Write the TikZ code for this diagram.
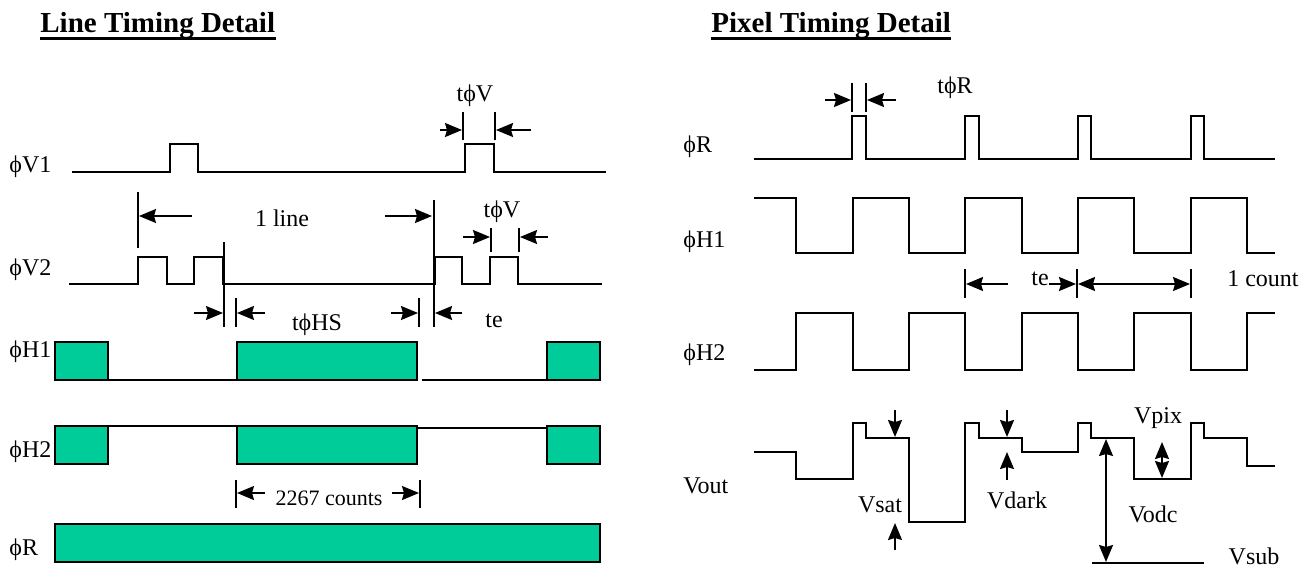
\documentclass[tikz,border=0pt]{standalone}
\usepackage{fontspec}
\setmainfont{Liberation Serif}
\usetikzlibrary{arrows.meta}

\definecolor{clkgreen}{RGB}{0,204,153}
\newcommand{\phisym}{\char"03D5\relax}

\tikzset{
  wave/.style={line width=1.2pt},
  tick/.style={line width=0.9pt},
  dim/.style={line width=0.9pt,-{Stealth[length=8.5pt,width=7pt,inset=1pt]}},
  dimboth/.style={line width=0.9pt,{Stealth[length=8.5pt,width=7pt,inset=1pt]}-{Stealth[length=8.5pt,width=7pt,inset=1pt]}},
  clk/.style={draw,line width=1.2pt,fill=clkgreen},
  lbl/.style={font=\fontsize{12}{14}\selectfont,inner sep=0pt,anchor=base},
  small/.style={font=\fontsize{11}{13}\selectfont,inner sep=0pt,anchor=base},
  ttl/.style={font=\fontsize{14.5}{17}\selectfont\bfseries,inner sep=0pt,anchor=base west},
  uline/.style={line width=1.5pt}
}

\begin{document}
\begin{tikzpicture}[x=0.5pt,y=-0.5pt]
  \useasboundingbox (0,0) rectangle (1299,567);

  % Titles
  \node[ttl] (linettl) at (40,33) {Line Timing Detail};
  \draw[uline] ([yshift=-3pt]linettl.base west) -- ([yshift=-3pt]linettl.base east);
  \node[ttl] (pixttl) at (711,33) {Pixel Timing Detail};
  \draw[uline] ([yshift=-3pt]pixttl.base west) -- ([yshift=-3pt]pixttl.base east);

  % Line timing: signal names
  \node[lbl,anchor=base west] (lv1) at (9,172) {\phisym V1};
  \node[lbl,anchor=base west] (lv2) at (9,275) {\phisym V2};
  \node[lbl,anchor=base west] (lh1) at (9,357) {\phisym H1};
  \node[lbl,anchor=base west] (lh2) at (9,457) {\phisym H2};
  \node[lbl,anchor=base west] (lr) at (9,555) {\phisym R};

  % phi V1
  \draw[wave] (72,172) -| (170,144) -| (198,172) -| (465,144) -| (494,172) -- (606,172);

  % phi V2
  \draw[wave] (69,284) -| (138,257) -| (167,284) -| (194,257) -| (223,284)
    -| (435,257) -| (462,284) -| (490,257) -| (518,284) -- (602,284);

  % phi H1 and phi H2
  \draw[clk] (55,342) rectangle (108,380);
  \draw[wave] (108,380) -- (237,380);
  \draw[clk] (237,342) rectangle (417,380);
  \draw[wave] (422,380) -- (547,380);
  \draw[clk] (547,342) rectangle (600,380);

  \draw[clk] (55,426) rectangle (108,464);
  \draw[wave] (108,426) -- (237,426);
  \draw[clk] (237,426) rectangle (417,464);
  \draw[wave] (417,428) -- (547,428);
  \draw[clk] (547,426) rectangle (600,464);

  % phi R
  \draw[clk] (55,524) rectangle (600,562);

  % t phi V on V1
  \node[lbl] (tv1) at (475,102) {t\phisym V};
  \draw[tick] (463,112) -- (463,140);
  \draw[tick] (495,112) -- (495,140);
  \draw[dim] (440,130) -- (462,130);
  \draw[dim] (531,130) -- (496,130);

  % 1 line
  \node[lbl] (oneline) at (282,226) {1 line};
  \draw[tick] (138,192) -- (138,248);
  \draw[dim] (192,216) -- (139,216);
  \draw[dim] (385,216) -- (432,216);
  \draw[tick] (434,200) -- (434,327);

  % t phi V on V2
  \node[lbl] (tv2) at (502,217) {t\phisym V};
  \draw[tick] (491,228) -- (491,252);
  \draw[tick] (519,228) -- (519,252);
  \draw[dim] (463,237) -- (490,237);
  \draw[dim] (548,237) -- (520,237);

  % t phi HS and te
  \draw[tick] (224,242) -- (224,327);
  \draw[dim] (194,313) -- (223,313);
  \draw[tick] (236,298) -- (236,327);
  \draw[dim] (265,313) -- (237,313);
  \node[lbl] (ths) at (317,330) {t\phisym HS};
  \draw[dim] (391,313) -- (418,313);
  \draw[tick] (419,298) -- (419,327);
  \draw[dim] (462,313) -- (435,313);
  \node[lbl] (tel) at (494,327) {te};

  % 2267 counts
  \draw[tick] (236,480) -- (236,508);
  \draw[tick] (420,480) -- (420,508);
  \draw[dim] (265,493) -- (237,493);
  \draw[dim] (392,493) -- (419,493);
  \node[small] (cnt) at (329,505) {2267 counts};

  % Pixel timing: signal names
  \node[lbl,anchor=base west] (pr) at (683,152) {\phisym R};
  \node[lbl,anchor=base west] (ph1) at (683,247) {\phisym H1};
  \node[lbl,anchor=base west] (ph2) at (683,360) {\phisym H2};
  \node[lbl,anchor=base west] (vout) at (683,493) {Vout};

  % phi R
  \draw[wave] (754,159) -| (852,116) -| (866,159) -| (965,116) -| (979,159)
    -| (1078,116) -| (1091,159) -| (1191,116) -| (1204,159) -- (1275,159);

  % phi H1
  \draw[wave] (754,198) -| (796,253) -| (853,198) -| (909,253) -| (965,198)
    -| (1022,253) -| (1078,198) -| (1134,253) -| (1191,198) -| (1247,253) -- (1275,253);

  % phi H2
  \draw[wave] (754,370) -| (796,313) -| (853,370) -| (909,313) -| (965,370)
    -| (1022,313) -| (1078,370) -| (1134,313) -| (1191,370) -| (1247,313) -- (1275,313);

  % Vout
  \draw[wave] (754,452) -| (796,479) -| (853,423) -| (866,438) -| (909,522)
    -| (965,423) -| (979,438) -| (1022,452) -| (1078,423) -| (1091,438)
    -| (1134,479) -| (1191,423) -| (1204,438) -| (1247,466) -- (1275,466);

  % t phi R
  \node[lbl] (tr) at (955,94) {t\phisym R};
  \draw[tick] (852,83) -- (852,112);
  \draw[tick] (866,83) -- (866,112);
  \draw[dim] (825,100) -- (851,100);
  \draw[dim] (896,100) -- (867,100);

  % te and 1 count
  \draw[tick] (965,269) -- (965,298);
  \draw[tick] (1077,269) -- (1077,298);
  \draw[tick] (1191,269) -- (1191,298);
  \draw[dim] (1008,284) -- (966,284);
  \node[lbl] (ter) at (1040,285) {te};
  \draw[dim] (1049,284) -- (1076,284);
  \draw[dimboth] (1078,284) -- (1190,284);
  \node[lbl,anchor=base east] (onecnt) at (1299,286) {1 count};

  % Vsat, Vdark
  \draw[dim] (895,410) -- (895,437);
  \draw[dim] (895,550) -- (895,523);
  \node[lbl] (vsat) at (880,512) {Vsat};
  \draw[dim] (1007,410) -- (1007,437);
  \draw[dim] (1007,480) -- (1007,452);
  \node[lbl] (vdark) at (1017,508) {Vdark};

  % Vodc, Vsub, Vpix
  \draw[dimboth] (1106,439) -- (1106,562);
  \draw[wave] (1092,563) -- (1204,563);
  \node[lbl] (vodc) at (1153,522) {Vodc};
  \node[lbl] (vsub) at (1254,564) {Vsub};
  \draw[dimboth] (1162,442) -- (1162,478);
  \node[lbl] (vpix) at (1158,423) {Vpix};
\end{tikzpicture}
\end{document}
